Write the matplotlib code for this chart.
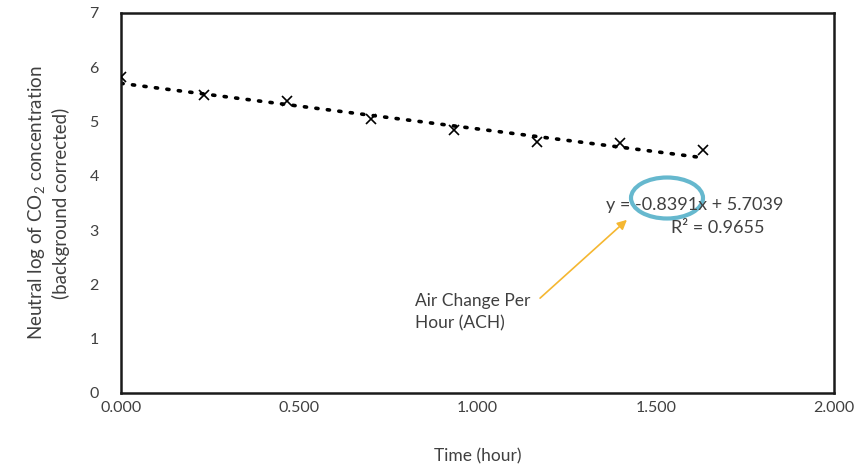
import matplotlib
matplotlib.use("Agg")
import matplotlib.pyplot as plt
from matplotlib.patches import Ellipse
import numpy as np

# Data
time_hours = [0.0, 0.233, 0.467, 0.700, 0.933, 1.167, 1.400, 1.633]
ln_co2 = [5.82, 5.49, 5.37, 5.05, 4.84, 4.63, 4.60, 4.47]
fit_slope = -0.8391
fit_intercept = 5.7039
fit_r2 = 0.9655
x_ticks = [0.0, 0.5, 1.0, 1.5, 2.0]
x_ticklabels = ["0.000", "0.500", "1.000", "1.500", "2.000"]
y_ticks = [0, 1, 2, 3, 4, 5, 6, 7]

plt.rcParams['font.family'] = ['Lato', 'DejaVu Sans']
txt = '#404040'

fig = plt.figure(figsize=(8.59, 4.72), dpi=100)
ax = fig.add_axes([121/859, 1-393/472, (834-121)/859, (393-13)/472])

ax.plot(time_hours, ln_co2, linestyle='none', marker='x', color='black',
        markersize=7, markeredgewidth=1.2, zorder=3)
fx = np.array([time_hours[0], time_hours[-1]])
ax.plot(fx, fit_slope*fx + fit_intercept, linestyle=(0, (0.6, 2.6)),
        color='black', linewidth=2.6, dash_capstyle='round', zorder=2)

ax.set_xlim(0, 2)
ax.set_ylim(0, 7)
ax.set_xticks(x_ticks)
ax.set_xticklabels(x_ticklabels)
ax.set_yticks(y_ticks)
ax.tick_params(axis='both', length=0, labelsize=11.5, colors=txt)
ax.tick_params(axis='y', pad=16)
ax.tick_params(axis='x', pad=6)
for s in ax.spines.values():
    s.set_linewidth(1.8)
    s.set_color('#1a1a1a')

ax.set_xlabel("Time (hour)", fontsize=12.5, color=txt, labelpad=24)
ax.set_ylabel("Neutral log of CO$_{\\mathregular{2}}$ concentration\n(background corrected)",
              fontsize=13.5, color=txt, labelpad=14, linespacing=1.25)

fig.text(695/859, 1-205/472, "y = -0.8391x + 5.7039", fontsize=13, color=txt,
         ha='center', va='center')
fig.text(718/859, 1-228/472, "R² = 0.9655", fontsize=13, color=txt,
         ha='center', va='center')

ell = Ellipse((667/859, 1-198/472), 72/859, 41/472, transform=fig.transFigure,
              fill=False, edgecolor='#4bacc6', linewidth=3, alpha=0.85)
fig.patches.append(ell)

fig.text(415/859, 1-312/472, "Air Change Per\nHour (ACH)", fontsize=12.5, color=txt,
         ha='left', va='center', linespacing=1.45)
ax.annotate("", xy=(629/859, 1-218/472), xytext=(538/859, 1-300/472),
            xycoords='figure fraction', textcoords='figure fraction',
            arrowprops=dict(arrowstyle='-|>', color='#f5b731', lw=1.2,
                            mutation_scale=14))

fig.savefig("out.png", dpi=100)
